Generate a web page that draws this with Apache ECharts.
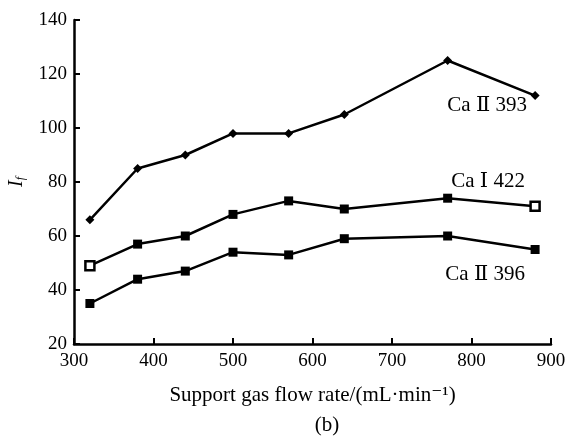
<!DOCTYPE html>
<html><head><meta charset="utf-8">
<script src="https://cdn.jsdelivr.net/npm/echarts@6/dist/echarts.min.js"></script>
<style>html,body{margin:0;padding:0;background:#fff}#c{width:567px;height:437px}</style>
</head><body><div id="c"></div>
<script>
const flowRates = [320, 380, 440, 500, 570, 640, 770, 880];
const caII393 = [66, 85, 90, 98, 98, 105, 125, 112];
const caI422 = [49, 57, 60, 68, 73, 70, 74, 71];
const caII396 = [35, 44, 47, 54, 53, 59, 60, 55];
const xTicks = [300, 400, 500, 600, 700, 800, 900];
const yTicks = [20, 40, 60, 80, 100, 120, 140];

const font = '"Liberation Serif", "DejaVu Serif", serif';
function pairs(vals){ return flowRates.map((x,i)=>[x, vals[i]]); }

const chart = echarts.init(document.getElementById('c'));
const lineStyle = {color:'#000', width:2.5};
function mkSeries(name, vals, symbol, size, offset, hollowIdx){
  const data = pairs(vals).map((p,i)=>{
    const d = {value:p};
    if (hollowIdx && hollowIdx.indexOf(i)>=0) d.itemStyle = {color:'#fff', borderColor:'#000', borderWidth:2.5};
    return d;
  });
  const last = data[data.length-1];
  last.label = {show:true, formatter:name, color:'#000', fontFamily:font, fontSize:21,
    position:'inside', offset:offset};
  return {type:'line', name, data, symbol, symbolSize:size, showSymbol:true,
    itemStyle:{color:'#000'}, lineStyle, label:{show:false}, silent:true, animation:false};
}
chart.setOption({
  animation:false,
  grid:{left:74, right:16, top:20, bottom:93, containLabel:false, outerBoundsMode:'none'},
  xAxis:{type:'value', min:300, max:900, interval:100,
    name:'Support gas flow rate/(mL·min⁻¹)', nameLocation:'middle', nameGap:41,
    nameTextStyle:{color:'#000', fontFamily:font, fontSize:21},
    axisLine:{lineStyle:{color:'#000', width:2.5}},
    axisTick:{inside:true, length:6, lineStyle:{color:'#000', width:2}},
    axisLabel:{color:'#000', fontFamily:font, fontSize:19, margin:8,
      formatter:v=>xTicks.indexOf(v)>=0?String(v):''},
    splitLine:{show:false}},
  yAxis:{type:'value', min:20, max:140, interval:20,
    name:'{i|I}{s|f}', nameLocation:'middle', nameGap:47, nameRotate:90,
    nameTextStyle:{rich:{i:{fontFamily:font, fontStyle:'italic', fontSize:20, color:'#000'},
      s:{fontFamily:font, fontStyle:'italic', fontSize:12, color:'#000', verticalAlign:'bottom', padding:[8,0,0,0]}}},
    axisLine:{lineStyle:{color:'#000', width:2.5}},
    axisTick:{inside:true, length:6, lineStyle:{color:'#000', width:2}},
    axisLabel:{color:'#000', fontFamily:font, fontSize:19, margin:7,
      formatter:v=>yTicks.indexOf(v)>=0?String(v):''},
    splitLine:{show:false}},
  graphic:[{type:'text', x:327, y:425, style:{text:'(b)', fill:'#000', font:'21px '+font, align:'center', verticalAlign:'middle'}}],
  series:[
    mkSeries('Ca Ⅱ 393', caII393, 'diamond', 9, [-48,10]),
    mkSeries('Ca Ⅰ 422', caI422, 'rect', 9, [-47,-25], [0,7]),
    mkSeries('Ca Ⅱ 396', caII396, 'rect', 9, [-50,25])
  ]
});
</script></body></html>
